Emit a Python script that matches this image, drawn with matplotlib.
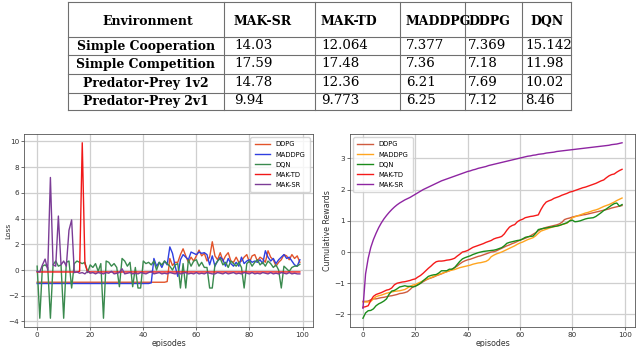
import matplotlib
matplotlib.use("Agg")
import matplotlib.pyplot as plt
import numpy as np

# ---------------- data ----------------
methods = ["MAK-SR", "MAK-TD", "MADDPG", "DDPG", "DQN"]
environments = ["Simple Cooperation", "Simple Competition", "Predator-Prey 1v2", "Predator-Prey 2v1"]
table_values = [
    ["14.03", "12.064", "7.377", "7.369", "15.142"],
    ["17.59", "17.48", "7.36", "7.18", "11.98"],
    ["14.78", "12.36", "6.21", "7.69", "10.02"],
    ["9.94", "9.773", "6.25", "7.12", "8.46"],
]

episodes = list(range(100))

loss_ddpg = [-0.95] * 49 + [
    -0.9, 0.9, 0.35, 0.6, 0.6, 1.2, 1.65, 1.1, 0.6, 1.0,
    0.7, 1.1, 1.55, 1.1, 1.3, 0.7, 1.0, 2.2, 1.1, 0.8,
    1.35, 0.7, 1.1, 1.35, 0.7, 0.6, 1.0, 0.6, 0.7, 1.0,
    1.2, 0.6, 1.1, 1.2, 0.7, 1.0, 0.85, 0.6, 1.5, 1.0,
    0.8, 0.3, 0.6, 0.8, 1.2, 1.1, 0.8, 1.2, 0.9, 1.1, 0.6]
loss_maddpg = [-1.05] * 43 + [
    -1.0, 0.9, 0.3, 0.6, 0.2, 0.7, 0.4, 1.8, 1.3, 0.3,
    -0.5, 0.8, 1.2, 1.0, 0.8, 1.4, 1.3, 1.2, 1.4, 1.3,
    1.35, 1.2, 0.4, 1.1, 0.3, 0.7, 1.0, 0.8, 0.3, 0.9,
    0.5, 0.3, 0.6, 0.3, 1.0, 0.5, 0.7, 0.8, 0.6, 0.7,
    0.6, 0.8, 0.5, 1.5, 1.0, 0.7, 0.9, 0.5, 0.8, 1.0,
    1.2, 0.9, 1.0, 0.7, 0.4, 0.3, 0.8]
loss_dqn = [
    0.3, -3.75, 0.3, 0.4, 0.2, -3.75, 0.4, 0.7, 0.3, 0.4,
    -3.75, 0.6, 0.7, -1.4, 0.5, 0.7, 0.6, 0.5, 0.6, -0.2,
    0.4, 0.2, 0.5, -0.1, 0.5, -3.75, 0.7, 0.6, 0.3, 0.5,
    0.2, -1.3, 0.9, 0.7, 0.3, 0.6, -1.3, 0.2, -1.4, -1.4,
    0.7, 0.5, 0.6, 0.4, 0.7, 0.0, 0.6, 0.4, 0.7, 0.5,
    0.3, 0.0, 0.4, 0.5, -1.4, 0.5, -1.4, 0.8, 0.3, 0.7,
    0.8, 0.3, 0.6, 0.2, 0.2, -1.4, -1.4, 0.4, 0.7, 0.9,
    0.4, 0.6, 0.2, 0.7, 0.5, 0.3, 0.6, 0.2, -1.4, 0.5,
    0.7, 0.3, 0.6, 0.8, 0.4, 0.6, 0.3, 0.7, 0.5, 0.2,
    0.4, 0.0, -1.4, 0.3, 0.1, -0.1, 0.2, 0.3, 0.3, 0.45]
loss_maktd = [-0.15] * 16 + [-0.1, 9.9, 0.5, -0.1] + [-0.15] * 80
loss_maksr = [
    -0.1, -0.15, 0.4, 0.85, 0.0, 7.2, 0.4, 0.3, 4.2, 0.4,
    0.7, 0.3, 3.1, 3.9, -0.2, -0.15, -0.25, -0.2, -0.3, -0.1,
    -0.25, -0.2, -0.3, -0.2, -0.25, -0.3, -0.2, -0.25, -0.1, -0.3,
    -0.25, -0.2, 0.1, -0.3, -0.25, -0.2, -0.3, -0.25, -0.3, -0.2,
    -0.25, -0.3, -0.2, -0.1, -0.3, -0.25, -0.2, -0.3, -0.25, -0.3,
    -0.2, -0.25, -0.3, -0.2, -0.3, -0.25, -0.2, -0.3, -0.25, -0.3,
    -0.2, -0.3, -0.25, -0.3, -0.2, -0.25, -0.3, -0.3, -0.2, -0.25,
    -0.3, -0.2, -0.3, -0.25, -0.2, -0.3, -0.25, -0.3, -0.2, -0.25,
    -0.3, -0.2, -0.3, -0.25, -0.3, -0.2, -0.25, -0.3, -0.2, -0.3,
    -0.25, -0.3, -0.2, -0.25, -0.3, -0.2, -0.3, -0.25, -0.3, -0.3]

rew_ddpg = [
    -1.58, -1.58, -1.57, -1.53, -1.5, -1.5, -1.48, -1.46, -1.45, -1.43,
    -1.41, -1.4, -1.38, -1.36, -1.33, -1.32, -1.3, -1.27, -1.2, -1.12,
    -1.08, -1.05, -1.0, -0.95, -0.9, -0.86, -0.83, -0.8, -0.76, -0.73,
    -0.7, -0.66, -0.63, -0.6, -0.55, -0.5, -0.45, -0.38, -0.32, -0.28,
    -0.25, -0.23, -0.2, -0.17, -0.14, -0.12, -0.09, -0.06, -0.03, 0.0,
    0.01, 0.04, 0.08, 0.12, 0.16, 0.2, 0.23, 0.27, 0.3, 0.34,
    0.38, 0.41, 0.44, 0.48, 0.52, 0.57, 0.62, 0.68, 0.73, 0.76,
    0.79, 0.81, 0.83, 0.85, 0.87, 0.9, 0.95, 1.04, 1.07, 1.09,
    1.12, 1.14, 1.16, 1.17, 1.19, 1.2, 1.22, 1.24, 1.26, 1.28,
    1.3, 1.32, 1.34, 1.36, 1.38, 1.41, 1.43, 1.45, 1.47, 1.49]
rew_maddpg = [
    -1.6, -1.6, -1.6, -1.58, -1.5, -1.43, -1.4, -1.38, -1.35, -1.32,
    -1.3, -1.28, -1.26, -1.25, -1.24, -1.22, -1.2, -1.15, -1.1, -1.06,
    -1.04, -1.0, -0.96, -0.92, -0.88, -0.85, -0.82, -0.78, -0.75, -0.72,
    -0.69, -0.66, -0.63, -0.6, -0.58, -0.56, -0.53, -0.5, -0.48, -0.46,
    -0.44, -0.42, -0.39, -0.37, -0.35, -0.34, -0.32, -0.3, -0.25, -0.15,
    -0.1, -0.06, -0.03, 0.0, 0.04, 0.08, 0.12, 0.16, 0.2, 0.25,
    0.29, 0.32, 0.36, 0.4, 0.43, 0.46, 0.52, 0.6, 0.67, 0.7,
    0.73, 0.76, 0.79, 0.81, 0.83, 0.85, 0.88, 0.9, 0.93, 1.0,
    1.1, 1.13, 1.16, 1.19, 1.22, 1.25, 1.27, 1.3, 1.33, 1.35,
    1.38, 1.42, 1.46, 1.49, 1.52, 1.56, 1.6, 1.65, 1.69, 1.73]
rew_dqn = [
    -2.12, -1.95, -1.88, -1.87, -1.82, -1.72, -1.66, -1.62, -1.57, -1.5,
    -1.35, -1.25, -1.23, -1.18, -1.12, -1.1, -1.08, -1.1, -1.1, -1.12,
    -1.1, -1.05, -1.0, -0.92, -0.85, -0.78, -0.75, -0.73, -0.72, -0.67,
    -0.6, -0.6, -0.6, -0.55, -0.55, -0.5, -0.4, -0.3, -0.22, -0.18,
    -0.15, -0.12, -0.08, -0.05, -0.02, 0.0, 0.02, 0.03, 0.04, 0.05,
    0.06, 0.08, 0.11, 0.14, 0.2, 0.28, 0.31, 0.33, 0.35, 0.37,
    0.38, 0.42, 0.47, 0.49, 0.5, 0.51, 0.6, 0.72, 0.74, 0.76,
    0.77, 0.79, 0.8, 0.82, 0.83, 0.85, 0.88, 0.91, 0.94, 1.0,
    1.02, 0.97, 0.98, 1.0, 1.03, 1.06, 1.08, 1.09, 1.1, 1.14,
    1.2, 1.26, 1.33, 1.38, 1.44, 1.5, 1.55, 1.57, 1.47, 1.52]
rew_maktd = [
    -1.77, -1.75, -1.72, -1.55, -1.42, -1.36, -1.33, -1.3, -1.26, -1.22,
    -1.2, -1.15, -1.05, -1.0, -0.98, -0.96, -0.95, -0.93, -0.91, -0.88,
    -0.86, -0.8, -0.75, -0.68, -0.6, -0.52, -0.45, -0.37, -0.31, -0.29,
    -0.29, -0.28, -0.26, -0.25, -0.23, -0.2, -0.13, -0.07, 0.0, 0.02,
    0.05, 0.1, 0.15, 0.18, 0.21, 0.24, 0.27, 0.31, 0.34, 0.37,
    0.42, 0.45, 0.47, 0.5, 0.58, 0.7, 0.8, 0.85, 0.88, 0.97,
    1.02, 1.05, 1.1, 1.12, 1.14, 1.15, 1.17, 1.19, 1.36, 1.5,
    1.6, 1.64, 1.67, 1.72, 1.75, 1.78, 1.82, 1.85, 1.88, 1.92,
    1.94, 1.97, 2.0, 2.03, 2.06, 2.08, 2.11, 2.14, 2.17, 2.2,
    2.24, 2.28, 2.31, 2.38, 2.44, 2.48, 2.5, 2.56, 2.61, 2.65]
rew_maksr = [
    -1.8, -0.7, -0.2, 0.15, 0.4, 0.6, 0.78, 0.93, 1.06, 1.17,
    1.27, 1.36, 1.44, 1.51, 1.57, 1.62, 1.67, 1.71, 1.75, 1.8,
    1.85, 1.9, 1.95, 2.0, 2.04, 2.08, 2.12, 2.16, 2.2, 2.24,
    2.28, 2.31, 2.34, 2.37, 2.4, 2.43, 2.46, 2.49, 2.52, 2.55,
    2.58, 2.6, 2.63, 2.65, 2.68, 2.7, 2.72, 2.74, 2.77, 2.79,
    2.81, 2.83, 2.85, 2.87, 2.89, 2.91, 2.93, 2.95, 2.97, 2.99,
    3.01, 3.03, 3.05, 3.07, 3.08, 3.1, 3.11, 3.13, 3.14, 3.15,
    3.17, 3.18, 3.19, 3.2, 3.22, 3.23, 3.24, 3.25, 3.26, 3.27,
    3.28, 3.29, 3.3, 3.31, 3.32, 3.33, 3.34, 3.35, 3.36, 3.37,
    3.38, 3.39, 3.4, 3.41, 3.42, 3.44, 3.45, 3.46, 3.48, 3.5]

# ---------------- figure ----------------
W, H = 640, 347
fig = plt.figure(figsize=(W / 100, H / 100), dpi=100)

def px_axes(l, t, r, b):
    return fig.add_axes([l / W, 1 - b / H, (r - l) / W, (b - t) / H])

TICK_FS = 5.2

def style(ax):
    ax.grid(True, color="#cfcfcf", lw=0.9)
    ax.set_axisbelow(True)
    ax.tick_params(labelsize=TICK_FS, length=2, width=0.5, pad=1.5, colors="#333333")
    for s in ax.spines.values():
        s.set_color("#555555")
        s.set_linewidth(0.6)
    ax.set_xticks([0, 20, 40, 60, 80, 100])

leg_kw = dict(fontsize=4.9, handlelength=2.3, borderpad=0.6, labelspacing=0.6,
              handletextpad=0.8, frameon=True, fancybox=True, edgecolor="#cccccc")

# Left: loss
ax1 = px_axes(24, 134, 313, 327)
lw = 1.0
ax1.plot(episodes, loss_ddpg, color="#e2532a", lw=lw, label="DDPG")
ax1.plot(episodes, loss_maddpg, color="#2f3fe0", lw=lw, label="MADDPG")
ax1.plot(episodes, loss_dqn, color="#3a8a4e", lw=lw, label="DQN")
ax1.plot(episodes, loss_maktd, color="#f01818", lw=lw, label="MAK-TD")
ax1.plot(episodes, loss_maksr, color="#7b3c96", lw=lw, label="MAK-SR")
style(ax1)
ax1.set_yticks([-4, -2, 0, 2, 4, 6, 8, 10])
ax1.set_xlabel("episodes", fontsize=TICK_FS + 0.5, labelpad=1, color="#333333")
ax1.set_ylabel("Loss", fontsize=TICK_FS + 0.2, color="#333333")
ax1.yaxis.set_label_coords(-0.045, 0.5)
ax1.legend(loc="upper right", **leg_kw)

# Right: rewards
ax2 = px_axes(350, 134, 635, 327)
ax2.plot(episodes, rew_ddpg, color="#cf5b3f", lw=lw, label="DDPG")
ax2.plot(episodes, rew_maddpg, color="#ffa51f", lw=lw, label="MADDPG")
ax2.plot(episodes, rew_dqn, color="#1b8c1b", lw=lw, label="DQN")
ax2.plot(episodes, rew_maktd, color="#f51a1a", lw=lw, label="MAK-TD")
ax2.plot(episodes, rew_maksr, color="#8e25a2", lw=lw, label="MAK-SR")
style(ax2)
ax2.set_yticks([-2, -1, 0, 1, 2, 3])
ax2.set_xlabel("episodes", fontsize=TICK_FS + 0.5, labelpad=1, color="#333333")
ax2.set_ylabel("Cumulative Rewards", fontsize=TICK_FS + 0.5, labelpad=2, color="#333333")
ax2.legend(loc="upper left", **leg_kw)

# ---------------- table ----------------
tab = fig.add_axes([0, 0, 1, 1])
tab.set_xlim(0, W)
tab.set_ylim(H, 0)
tab.axis("off")
tab.patch.set_alpha(0)

col_x = [68, 224, 315, 400, 465, 522, 571]
text_x = [234, 321, 406, 468, 525]
hdr_x = [234, 321, 406, 468, 530]
row_y = [2, 37, 55, 74, 93, 110]
line_kw = dict(color="#6f6f6f", lw=0.8)
for x in col_x:
    tab.plot([x, x], [row_y[0], row_y[-1]], **line_kw)
for y in row_y:
    tab.plot([col_x[0], col_x[-1]], [y, y], **line_kw)

serif = ["DejaVu Serif"]
HDR_FS = 9.0
VAL_FS = 9.6
tab.text((col_x[0] + col_x[1]) / 2 + 2, 21, "Environment", ha="center", va="center",
         fontsize=HDR_FS, fontweight="bold", family=serif)
for j, m in enumerate(methods):
    tab.text(hdr_x[j], 21, m, ha="left", va="center",
             fontsize=HDR_FS, fontweight="bold", family=serif)
for i, env in enumerate(environments):
    yc = (row_y[i + 1] + row_y[i + 2]) / 2
    tab.text((col_x[0] + col_x[1]) / 2, yc, env, ha="center", va="center",
             fontsize=8.9, fontweight="bold", family=serif)
    for j, v in enumerate(table_values[i]):
        tab.text(text_x[j], yc - 1, v, ha="left", va="center",
                 fontsize=VAL_FS, family=serif)

fig.savefig("out.png", dpi=100)
